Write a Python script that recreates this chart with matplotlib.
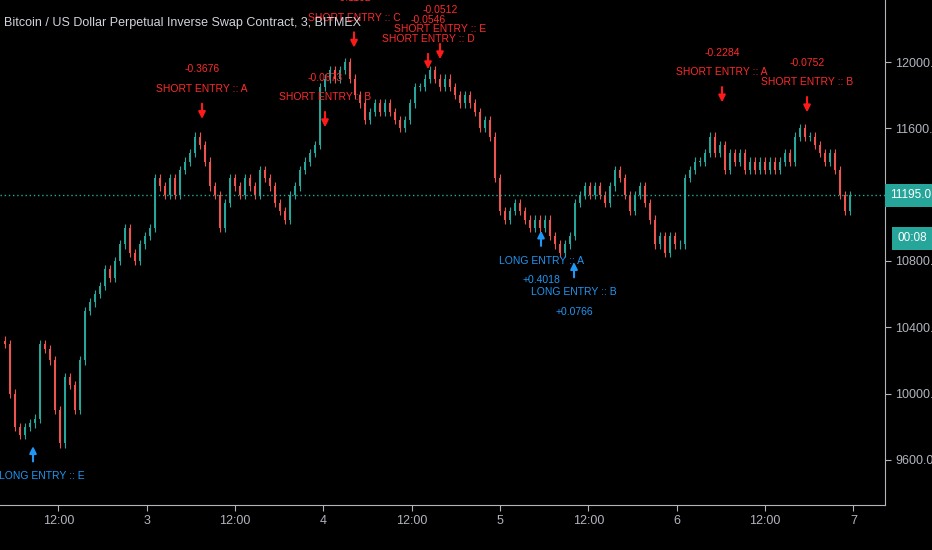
import matplotlib
matplotlib.use("Agg")
import matplotlib.pyplot as plt
import numpy as np

plt.rcParams['font.family'] = ["Liberation Sans", "DejaVu Sans"]

closes = [10320,10300,10000,9800,9750,9800,9820,9850,10300,10270,10200,9900,9700,10100,10050,9900,10200,10500,10550,10600,
10650,10750,10700,10800,10900,11000,10850,10800,10900,10950,11000,11300,11250,11200,11300,11200,11350,11400,11450,11550,
11500,11400,11250,11200,11000,11150,11300,11250,11200,11300,11250,11200,11350,11300,11250,11150,11100,11050,11200,11250,
11350,11400,11450,11500,11850,11900,11950,11900,11950,12000,11900,11800,11750,11650,11700,11750,11700,11750,11700,11650,
11600,11650,11750,11850,11850,11900,11950,11900,11850,11900,11850,11800,11750,11800,11750,11700,11600,11650,11550,11300,
11100,11050,11100,11150,11100,11050,11000,11050,11000,11050,10950,10900,10850,10900,10950,11150,11200,11250,11200,11250,
11200,11150,11250,11350,11300,11200,11100,11200,11250,11150,11050,10900,10950,10850,10950,10900,10900,11300,11350,11400,
11400,11450,11550,11450,11500,11350,11450,11400,11450,11350,11400,11350,11400,11350,11400,11350,11400,11450,11400,11550,
11600,11550,11550,11500,11450,11400,11450,11350,11200,11100,11195]
start_day = 2.17
step_day = 5/176.7
last_price = 11195.0

sig_x = [33,202,325,354,428,440,541,574,722,807]
sig_kind = ["L","S","S","S","S","S","L","L","S","S"]
sig_tip = [9700,11640,11590,12070,11940,12000,11000,10810,11740,11680]
sig_label = ["LONG ENTRY :: E","SHORT ENTRY :: A","SHORT ENTRY :: B","SHORT ENTRY :: C","SHORT ENTRY :: D",
             "SHORT ENTRY :: E","LONG ENTRY :: A","LONG ENTRY :: B","SHORT ENTRY :: A","SHORT ENTRY :: B"]
sig_value = ["","-0.3676","-0.0673","-0.1102","-0.0546","-0.0512","+0.4018","+0.0766","-0.2284","-0.0752"]

xticks = [2.5,3,3.5,4,4.5,5,5.5,6,6.5,7]
xlabels = ["12:00","3","12:00","4","12:00","5","12:00","6","12:00","7"]
yticks = [9600,10000,10400,10800,11200,11600,12000]

fig = plt.figure(figsize=(9.32,5.5), dpi=100, facecolor="black")
ax = fig.add_axes([0,0.082,0.9496,0.918], facecolor="black")
up, dn = "#26a69a", "#ef5350"
w = step_day*0.5
for i in range(1,len(closes)):
    o, c = closes[i-1], closes[i]
    x = start_day + i*step_day
    col = up if c >= o else dn
    ax.vlines(x, min(o,c)-25, max(o,c)+25, color=col, lw=0.8)
    ax.bar(x, max(abs(c-o),4), bottom=min(o,c), width=w, color=col, lw=0)

ax.axhline(last_price, color="#26a69a", ls=(0,(1,2)), lw=1)
fs = 7.5
for x, k, tip, lab, val in zip(sig_x, sig_kind, sig_tip, sig_label, sig_value):
    xd = start_day + x/176.7
    if k == "S":
        ax.annotate("", xy=(xd,tip), xytext=(0,15), textcoords="offset points",
                    arrowprops=dict(arrowstyle="-|>", color="#ff1a1a", lw=1.5, mutation_scale=10))
        ax.annotate(lab, xy=(xd,tip), xytext=(0,20), textcoords="offset points", ha="center", va="bottom",
                    color="#ff2a2a", fontsize=fs)
        ax.annotate(val, xy=(xd,tip), xytext=(0,34), textcoords="offset points", ha="center", va="bottom",
                    color="#ff2a2a", fontsize=fs)
    else:
        dx = 6 if x < 60 else 0
        ax.annotate("", xy=(xd,tip), xytext=(0,-15), textcoords="offset points",
                    arrowprops=dict(arrowstyle="-|>", color="#2196f3", lw=1.5, mutation_scale=10))
        ax.annotate(lab, xy=(xd,tip), xytext=(dx,-20), textcoords="offset points", ha="center", va="top",
                    color="#2196f3", fontsize=fs)
        if val:
            ax.annotate(val, xy=(xd,tip), xytext=(0,-34), textcoords="offset points", ha="center", va="top",
                        color="#2196f3", fontsize=fs)

ax.set_xlim(start_day, start_day + 885/176.7)
ax.set_ylim(9329, 12374)
ax.yaxis.tick_right()
ax.set_yticks(yticks)
ax.set_yticklabels([f"{v:.1f}" for v in yticks])
ax.set_xticks(xticks)
ax.set_xticklabels(xlabels)
ax.tick_params(colors="#b2b5be", labelsize=9, length=4)
for s in ["top","left"]:
    ax.spines[s].set_visible(False)
for s in ["bottom","right"]:
    ax.spines[s].set_color("#b2b5be")
ax.text(0.005, 0.955, "Bitcoin / US Dollar Perpetual Inverse Swap Contract, 3, BITMEX",
        transform=ax.transAxes, color="#d1d4dc", fontsize=9, va="center")
ypos = (last_price-9329)/(12374-9329)
ax.text(1.006, ypos, f"{last_price:.1f}", transform=ax.transAxes,
        color="white", fontsize=8.5, va="center", ha="left",
        bbox=dict(boxstyle="square,pad=0.45", fc="#26a69a", ec="none"))
ax.text(1.014, ypos-0.085, "00:08", transform=ax.transAxes,
        color="white", fontsize=8.5, va="center", ha="left",
        bbox=dict(boxstyle="square,pad=0.45", fc="#26a69a", ec="none"))
fig.savefig("out.png", dpi=100, facecolor="black")
